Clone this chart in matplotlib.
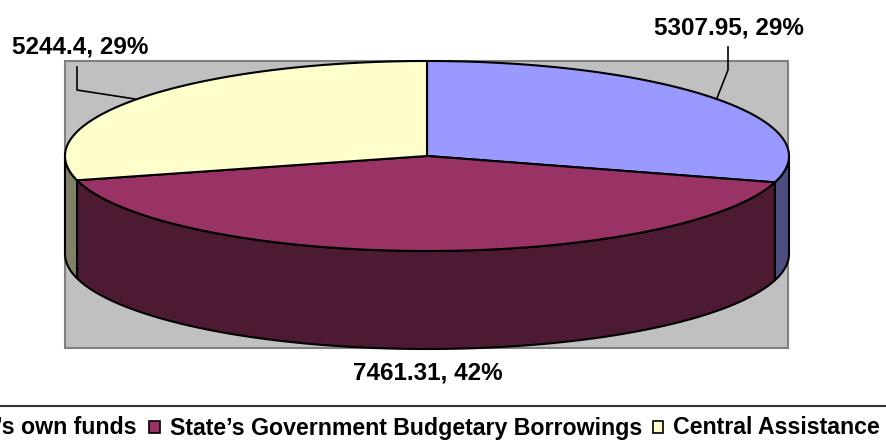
import numpy as np
import matplotlib
matplotlib.use("Agg")
import matplotlib.pyplot as plt
from matplotlib.patches import Polygon, Rectangle

plt.rcParams['font.family'] = ['Liberation Sans', 'DejaVu Sans']

# Data
categories = ["State\u2019s own funds", "State\u2019s Government Budgetary Borrowings", "Central Assistance"]
values = [5307.95, 7461.31, 5244.4]
percent_labels = ["29%", "42%", "29%"]
top_colors = ["#9999FF", "#993366", "#FFFFCC"]
side_colors = ["#4D4D80", "#4D1A33", "#808066"]

# Pie geometry in pixels
cx, cy = 427, 156
rx, ry = 362, 95
depth = 98


def rim(start, end, drop=0):
    # points on the ellipse, angles clockwise from 12 o'clock
    t = np.radians(np.linspace(start, end, max(int(abs(end - start)) * 2, 2) + 1))
    return np.column_stack([cx + rx * np.sin(t), cy - ry * np.cos(t) + drop])


fig = plt.figure(figsize=(8.87, 4.41), dpi=100)
ax = fig.add_axes([0, 0, 1, 1])
ax.set_xlim(0, 887)
ax.set_ylim(441, 0)
ax.axis('off')

# Plot area
ax.add_patch(Rectangle((65, 61), 723, 287, facecolor="#C0C0C0", edgecolor="#808080", lw=1.5))

edges = 360 * np.cumsum([0] + values) / sum(values)

# Outer wall, only the front half of the pie shows
for i in range(3):
    a = max(edges[i], 90)
    b = min(edges[i + 1], 270)
    wall = np.vstack([rim(a, b), rim(b, a, depth)])
    ax.add_patch(Polygon(wall, closed=True, facecolor=side_colors[i], edgecolor="black", lw=1.5, joinstyle='round'))

# Top face
for i in range(3):
    pts = np.vstack([[[cx, cy]], rim(edges[i], edges[i + 1])])
    ax.add_patch(Polygon(pts, closed=True, facecolor=top_colors[i], edgecolor="black", lw=1.5, joinstyle='round'))

# Leader lines
ax.plot([728, 728, 717], [47, 70, 98], color="black", lw=1.2)
ax.plot([77, 77, 135], [67, 90, 99], color="black", lw=1.2)

# Data labels
label_font = dict(fontsize=17.5, fontweight='bold', color="black", va='center')
ax.text(729, 28, f"{values[0]}, {percent_labels[0]}", ha='center', **label_font)
ax.text(428, 373, f"{values[1]}, {percent_labels[1]}", ha='center', **label_font)
ax.text(80, 47, f"{values[2]}, {percent_labels[2]}", ha='center', **label_font)

# Legend strip, runs off the left edge
ax.plot([0, 887], [406, 406], color="#333333", lw=1.5)
legend_font = dict(fontsize=16.7, fontweight='bold', color="black", va='center')
ax.text(137, 428, categories[0], ha='right', clip_on=True, **legend_font)
ax.add_patch(Rectangle((149, 421), 11, 12, facecolor=top_colors[1], edgecolor="black", lw=1.2))
ax.text(170, 428, categories[1], ha='left', **legend_font)
ax.add_patch(Rectangle((653, 421), 10, 12, facecolor=top_colors[2], edgecolor="black", lw=1.2))
ax.text(673, 428, categories[2], ha='left', **legend_font)

fig.savefig("out.png", dpi=100)
